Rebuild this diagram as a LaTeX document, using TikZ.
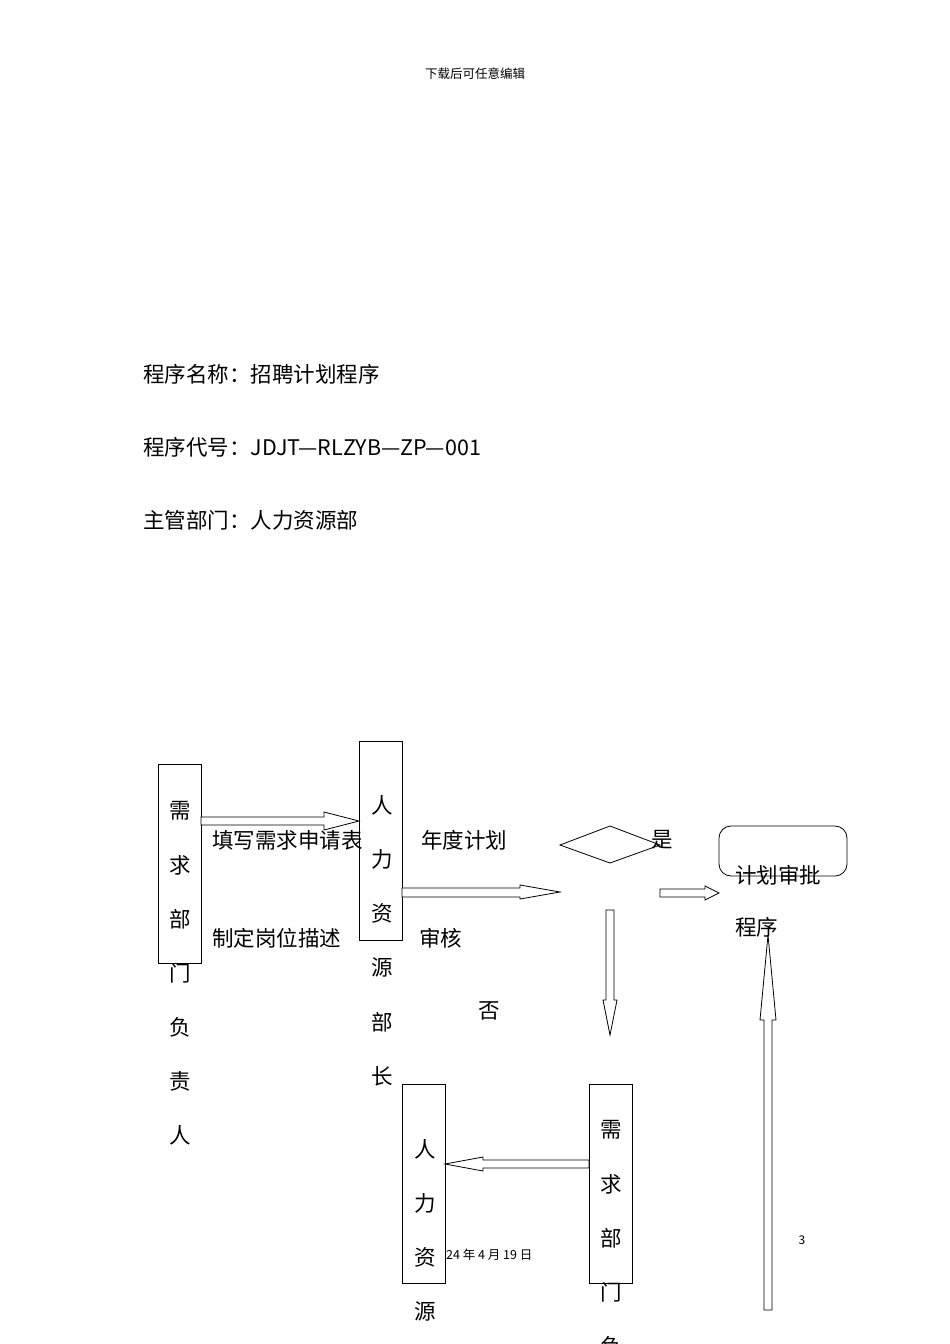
\documentclass[tikz,border=0pt]{standalone}
\usepackage{fontspec}
\setmainfont{Noto Sans CJK SC}
\usetikzlibrary{shapes.geometric}
\begin{document}
\begin{tikzpicture}[x=1pt,y=-1pt,
  box/.style={draw,line width=0.8pt,inner sep=0pt},
  harrow/.style={draw,line width=0.8pt,fill=white},
  txt/.style={font=\fontsize{21.5}{24}\selectfont,inner sep=0pt},
  vch/.style={font=\fontsize{21.5}{24}\selectfont,inner sep=0pt}]
\useasboundingbox (0,0) rectangle (950,1344);
\fill[white] (0,0) rectangle (950,1344);
\node[font=\fontsize{12.5}{14}\selectfont] (top) at (475,74) {下载后可任意编辑};
\node[txt,anchor=west] (h1) at (143,374) {程序名称：招聘计划程序};
\node[txt,anchor=west] (h2) at (143,447) {程序代号：JDJT—RLZYB—ZP—001};
\node[txt,anchor=west] (h3) at (143,520) {主管部门：人力资源部};
% boxes
\draw[box] (158,764) rectangle (201,963);
\draw[box] (359,741) rectangle (402,940);
\draw[box] (402,1084) rectangle (445,1283);
\draw[box] (589,1084) rectangle (632,1283);
\draw[line width=0.8pt] (560,845) -- (610,826) -- (660,845) -- (610,863) -- cycle;
\draw[line width=0.8pt,rounded corners=12pt] (719,826) rectangle (847,876);
% vertical texts
\foreach \c [count=\i from 0] in {需,求,部,门,负,责,人} \node[vch] (a\i) at (180,811+54*\i) {\c};
\foreach \c [count=\i from 0] in {人,力,资,源,部,长} \node[vch] (b\i) at (382,805+54.2*\i) {\c};
\foreach \c [count=\i from 0] in {人,力,资,源} \node[vch] (c\i) at (425,1149+54*\i) {\c};
\foreach \c [count=\i from 0] in {需,求,部,门,负} \node[vch] (d\i) at (611,1130+54*\i) {\c};
% arrows
\draw[harrow] (201,817)--(324,817)--(324,812)--(359,821)--(324,830)--(324,825)--(201,825)--cycle;
\draw[harrow] (402,888)--(520,888)--(520,885)--(560,892)--(520,899)--(520,897)--(402,897)--cycle;
\draw[harrow] (660,889)--(705,889)--(705,886)--(719,893)--(705,900)--(705,897)--(660,897)--cycle;
\draw[harrow] (606,910)--(606,1000)--(603,1000)--(610,1035)--(617,1000)--(614,1000)--(614,910)--cycle;
\draw[harrow] (764,1310)--(764,1020)--(760,1020)--(768,935)--(776,1020)--(772,1020)--(772,1310)--cycle;
\draw[harrow] (589,1160)--(483,1160)--(483,1157)--(445,1164)--(483,1171)--(483,1168)--(589,1168)--cycle;
% labels
\node[txt,anchor=west] (l1) at (212,840) {填写需求申请表};
\node[txt,anchor=west] (l2) at (212,938) {制定岗位描述};
\node[txt,anchor=west] (l3) at (421,840) {年度计划};
\node[txt,anchor=west] (l4) at (419,938) {审核};
\node[txt] (l5) at (489,1011) {否};
\node[txt] (l6) at (662,840) {是};
\node[txt,anchor=west] (l7) at (735,875) {计划审批};
\node[txt,anchor=west] (l8) at (735,927) {程序};
\node[font=\fontsize{12.5}{14}\selectfont,anchor=west,inner sep=0pt] (f1) at (446,1255) {24 年 4 月 19 日};
\node[font=\fontsize{12}{14}\selectfont] (f2) at (802,1240) {3};
\end{tikzpicture}
\end{document}
